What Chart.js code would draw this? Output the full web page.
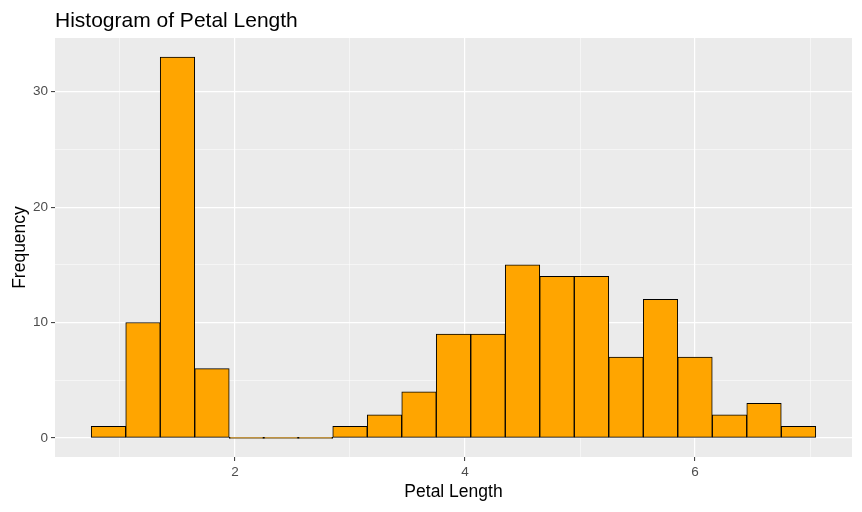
<!DOCTYPE html>
<html>
<head>
<meta charset="utf-8">
<script src="https://cdn.jsdelivr.net/npm/chart.js@4"></script>
<style>
  html, body { margin: 0; padding: 0; background: #fff; }
  #wrap { width: 862px; height: 512px; }
</style>
</head>
<body>
<div id="wrap"><canvas id="myChart"></canvas></div>
<script>
// bins of width 0.3 (centres) and counts
const binCenters = [0.9, 1.2, 1.5, 1.8, 2.1, 2.4, 2.7, 3.0, 3.3, 3.6, 3.9, 4.2, 4.5, 4.8, 5.1, 5.4, 5.7, 6.0, 6.3, 6.6, 6.9];
const counts = [1, 10, 33, 6, 0, 0, 0, 1, 2, 4, 9, 9, 15, 14, 14, 7, 12, 7, 2, 3, 1];
const xGrid = [1, 2, 3, 4, 5, 6, 7];
const xTickLabels = [2, 4, 6];
const yGrid = [0, 5, 10, 15, 20, 25, 30];
const yTickLabels = [0, 10, 20, 30];

const FONT = "'Liberation Sans', Arial, sans-serif";

// is this grid line a major one (labelled)?
function isMajor(c, labels) {
    return !!(c && c.tick && labels.includes(c.tick.value));
}

// panel background + title
const ggPanel = {
    id: 'ggPanel',
    beforeDraw(chart) {
        const a = chart.chartArea, c = chart.ctx;
        c.save();
        c.fillStyle = '#EBEBEB';
        c.fillRect(a.left, a.top, a.right - a.left, a.bottom - a.top);
        c.restore();
    },
    afterDraw(chart) {
        const c = chart.ctx;
        c.save();
        c.fillStyle = '#000';
        c.font = '21px ' + FONT;
        c.textBaseline = 'alphabetic';
        c.fillText('Histogram of Petal Length', chart.chartArea.left, 27);
        c.restore();
    }
};

const ctx = document.getElementById('myChart').getContext('2d');
new Chart(ctx, {
    type: 'bar',
    data: {
        datasets: [{
            label: 'Frequency',
            data: binCenters.map((x, i) => ({ x: x, y: counts[i] })),
            backgroundColor: '#FFA500',
            borderColor: '#000',
            borderWidth: 1,
            borderSkipped: false,
            minBarLength: 1,
            barPercentage: 1,
            categoryPercentage: 1
        }]
    },
    options: {
        responsive: true,
        maintainAspectRatio: false,
        animation: false,
        layout: { padding: { top: 38, right: 10, left: 0, bottom: 0 } },
        plugins: { legend: { display: false }, tooltip: { enabled: false } },
        scales: {
            x: {
                type: 'linear',
                offset: false,
                min: 0.435,
                max: 7.365,
                afterBuildTicks: s => { s.ticks = xGrid.map(v => ({ value: v })); },
                afterFit: s => { s.height = 55; },
                border: { display: false },
                grid: {
                    offset: false,
                    color: '#FFFFFF',
                    lineWidth: c => isMajor(c, xTickLabels) ? 1.2 : 0.5,
                    tickColor: c => isMajor(c, xTickLabels) ? '#333333' : 'rgba(0,0,0,0)',
                    tickWidth: 1,
                    tickLength: 4
                },
                ticks: {
                    autoSkip: false,
                    maxRotation: 0,
                    padding: 3,
                    color: '#4D4D4D',
                    font: { family: FONT, size: 13.5 },
                    callback: v => xTickLabels.includes(v) ? String(v) : ''
                },
                title: {
                    display: true,
                    text: 'Petal Length',
                    color: '#000',
                    font: { family: FONT, size: 17.5 },
                    padding: { top: 0, bottom: 9 }
                }
            },
            y: {
                min: -1.65,
                max: 34.65,
                afterBuildTicks: s => { s.ticks = yGrid.map(v => ({ value: v })); },
                afterFit: s => { s.width = 55; },
                border: { display: false },
                grid: {
                    color: '#FFFFFF',
                    lineWidth: c => isMajor(c, yTickLabels) ? 1.2 : 0.5,
                    tickColor: c => isMajor(c, yTickLabels) ? '#333333' : 'rgba(0,0,0,0)',
                    tickWidth: 1,
                    tickLength: 4
                },
                ticks: {
                    autoSkip: false,
                    padding: 3,
                    color: '#4D4D4D',
                    font: { family: FONT, size: 13.5 },
                    callback: v => yTickLabels.includes(v) ? String(v) : ''
                },
                title: {
                    display: true,
                    text: 'Frequency',
                    color: '#000',
                    font: { family: FONT, size: 17.5 },
                    padding: { top: 10, bottom: 0 }
                }
            }
        }
    },
    plugins: [ggPanel]
});
</script>
</body>
</html>
